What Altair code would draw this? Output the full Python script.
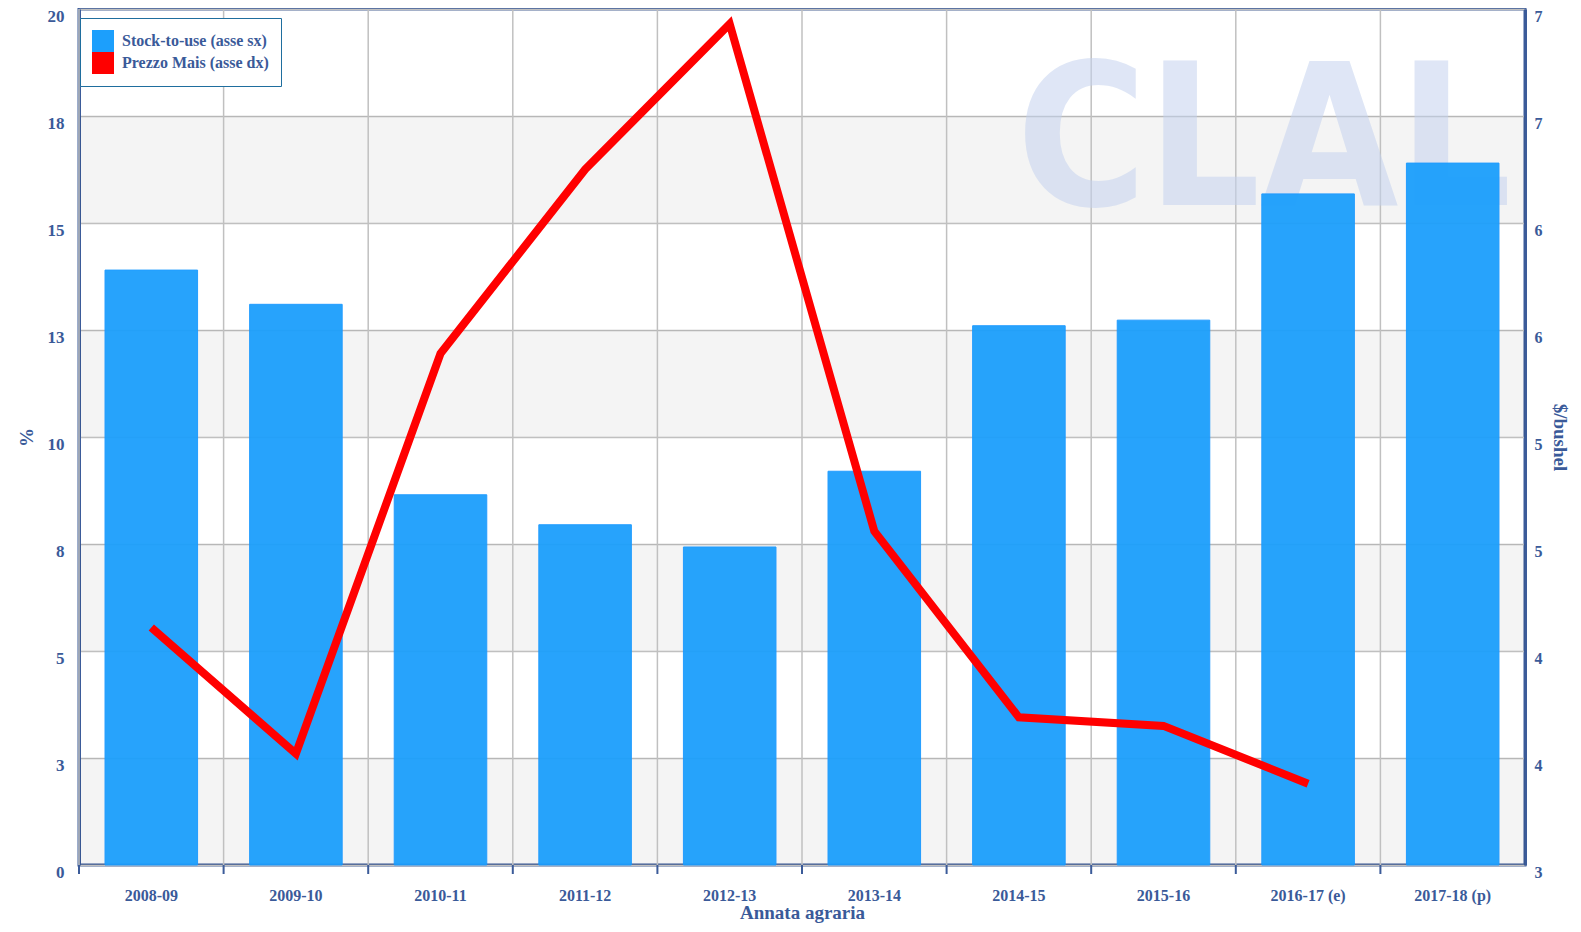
import altair as alt
import pandas as pd

categories = ["2008-09", "2009-10", "2010-11", "2011-12", "2012-13",
              "2013-14", "2014-15", "2015-16", "2016-17 (e)", "2017-18 (p)"]
stock_to_use = [13.9, 13.1, 8.65, 7.95, 7.43, 9.2, 12.6, 12.73, 15.68, 16.4]
price_cats = categories[:9]
price = [4.11, 3.52, 5.39, 6.25, 6.93, 4.56, 3.69, 3.65, 3.38]
left_ticks = [0, 2.5, 5, 7.5, 10, 12.5, 15, 17.5, 20]
right_ticks = [3, 3.5, 4, 4.5, 5, 5.5, 6, 6.5, 7]
band_lo = [0, 5, 10, 15]
band_hi = [2.5, 7.5, 12.5, 17.5]
series_names = ["Stock-to-use (asse sx)", "Prezzo Mais (asse dx)"]

W, H = 1446, 856
BLUE_TXT = "#3a5a99"
FRAME = "#3b5b99"
FONT = "Liberation Serif"

bars_df = pd.DataFrame({"cat": categories, "v": stock_to_use, "s": series_names[0]})
line_df = pd.DataFrame({"cat": price_cats, "p": price, "s": series_names[1]})
bands_df = pd.DataFrame({"lo": band_lo, "hi": band_hi})
cats_df = pd.DataFrame({"cat": categories})
wm_df = pd.DataFrame({"t": ["CLAL"]})

xscale = alt.Scale(domain=categories, paddingInner=0, paddingOuter=0)
xaxis = alt.Axis(title="Annata agraria", labelAngle=0, ticks=False, grid=False,
                 domain=False, labelPadding=22, titlePadding=0,
                 labelFontSize=16, titleFontSize=19)
xenc = alt.X("cat:N", scale=xscale, sort=categories, axis=xaxis)
xenc_start = alt.X("cat:N", scale=xscale, sort=categories, bandPosition=0, axis=xaxis)

yscale = alt.Scale(domain=[0, 20], nice=False, zero=True)
yaxis = alt.Axis(title="%", values=left_ticks, format=".0f", ticks=False, grid=True,
                 gridColor="#c0c0c0", gridWidth=1.5, labelPadding=15, titlePadding=11,
                 labelFontSize=17, titleFontSize=19, labelOffset=7)

color = alt.Color("s:N", scale=alt.Scale(domain=series_names, range=["#1c9ffc", "#ff0000"]),
                  legend=alt.Legend(title=None, orient="none", legendX=1, legendY=9,
                                    symbolType="square", symbolSize=484, symbolStrokeWidth=0,
                                    symbolOpacity=1, labelFontSize=16, labelFont=FONT,
                                    labelFontWeight="bold", labelColor=BLUE_TXT,
                                    strokeColor="#1f6e9e", fillColor="white", padding=12,
                                    rowPadding=0, labelOffset=8))

bands = alt.Chart(bands_df).mark_rect(color="black", opacity=0.045).encode(
    x=alt.value(0), x2=alt.value(W),
    y=alt.Y("lo:Q", scale=yscale, axis=yaxis), y2="hi:Q")

vgrid = alt.Chart(cats_df).mark_rule(color="#c0c0c0", strokeWidth=1.5).encode(
    x=xenc_start, y=alt.value(0), y2=alt.value(H))

xticks = alt.Chart(cats_df).mark_rule(color=FRAME, strokeWidth=2).encode(
    x=xenc_start, y=alt.value(H), y2=alt.value(H + 9))

watermark = alt.Chart(wm_df).mark_text(
    font="DejaVu Sans Condensed", fontWeight="bold", fontSize=198,
    color="#c5d3ef", opacity=0.55, baseline="alphabetic", align="center").encode(
    text="t:N", x=alt.value(1185), y=alt.value(196))

bars = alt.Chart(bars_df).mark_bar(width=alt.RelativeBandSize(0.64), stroke="#1898ff",
                                   strokeWidth=1, opacity=0.95).encode(
    x=xenc, y=alt.Y("v:Q", scale=yscale, axis=yaxis), color=color)

line = alt.Chart(line_df).mark_line(strokeWidth=8, strokeJoin="miter", strokeCap="butt").encode(
    x=xenc,
    y=alt.Y("p:Q", scale=alt.Scale(domain=[3, 7], nice=False, zero=False),
            axis=alt.Axis(title="$/bushel", values=right_ticks, format=".0f", orient="right",
                          ticks=False, grid=False, labelPadding=9, titlePadding=7,
                          labelFontSize=16, titleFontSize=19, labelOffset=7)),
    color=color)

inner = alt.layer(bands, vgrid, xticks, watermark, bars)
chart = alt.layer(inner, line).resolve_scale(y="independent").properties(
    width=W, height=H, autosize=alt.AutoSizeParams(type="none"),
    padding={"left": 71, "top": 1, "right": 48, "bottom": 59},
    background="white"
).configure_view(stroke=FRAME, strokeWidth=3).configure_axis(
    labelFont=FONT, titleFont=FONT, labelFontWeight="bold", titleFontWeight="bold",
    labelColor=BLUE_TXT, titleColor=BLUE_TXT, domainColor=FRAME, domainWidth=3
)

chart.save("out.html", embed_options={"renderer": "svg", "actions": False})
